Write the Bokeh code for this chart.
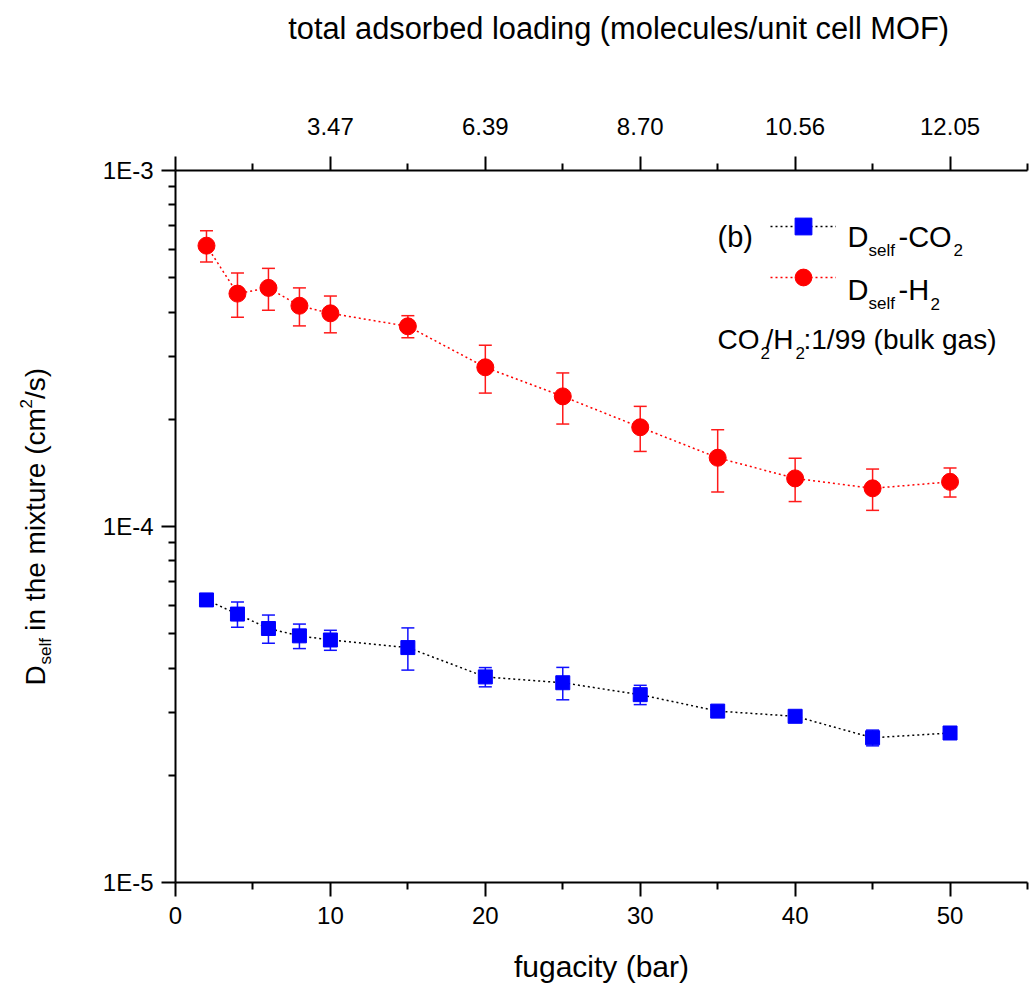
import math
from bokeh.plotting import figure
from bokeh.layouts import row
from bokeh.models import (Range1d, LinearAxis, FixedTicker, CustomJSTickFormatter,
                          Whisker, TeeHead, ColumnDataSource, Legend, LegendItem, Label)
from bokeh.core.properties import value
from bokeh.embed import file_html
from bokeh.resources import INLINE

# ---------------- data ----------------
fugacity = [2, 4, 6, 8, 10, 15, 20, 25, 30, 35, 40, 45, 50]
h2_dself = [6.15e-4, 4.51e-4, 4.68e-4, 4.17e-4, 3.97e-4, 3.65e-4, 2.80e-4,
            2.32e-4, 1.90e-4, 1.56e-4, 1.365e-4, 1.28e-4, 1.335e-4]
h2_err = [0.62e-4, 0.64e-4, 0.63e-4, 0.51e-4, 0.47e-4, 0.26e-4, 0.43e-4,
          0.38e-4, 0.275e-4, 0.31e-4, 0.19e-4, 0.17e-4, 0.125e-4]
co2_dself = [6.22e-5, 5.675e-5, 5.17e-5, 4.93e-5, 4.80e-5, 4.57e-5, 3.78e-5,
             3.64e-5, 3.37e-5, 3.03e-5, 2.93e-5, 2.55e-5, 2.63e-5]
co2_err = [0.12e-5, 0.46e-5, 0.47e-5, 0.39e-5, 0.31e-5, 0.62e-5, 0.235e-5,
           0.38e-5, 0.21e-5, 0.05e-5, 0.05e-5, 0.13e-5, 0.05e-5]

bottom_ticks = [0, 10, 20, 30, 40, 50]
bottom_minor = [5, 15, 25, 35, 45, 55]
top_ticks = [10, 20, 30, 40, 50]
loading_labels = ["3.47", "6.39", "8.70", "10.56", "12.05"]
y_major = [1e-5, 1e-4, 1e-3]
y_minor = [k * 10.0 ** e for e in (-5, -4) for k in range(2, 10)]

FONT = "Liberation Sans"
LW = 70          # width of the strip that carries the rotated y title
H = 986
FRAME_TOP, FRAME_BOTTOM = 170, 882

p = figure(width=1029 - LW, height=H, output_backend="svg", toolbar_location=None,
           x_range=Range1d(0, 55), y_range=Range1d(1e-5, 1e-3), y_axis_type="log",
           min_border_left=175 - LW, min_border_top=FRAME_TOP, min_border_right=2,
           min_border_bottom=H - FRAME_BOTTOM, outline_line_color=None)
p.grid.visible = False


def style_axis(ax):
    ax.axis_line_width = 2
    ax.axis_line_color = "black"
    ax.major_tick_line_width = 2
    ax.minor_tick_line_width = 2
    ax.major_tick_in = 0
    ax.major_tick_out = 14
    ax.minor_tick_in = 0
    ax.minor_tick_out = 7
    ax.major_label_text_font = FONT
    ax.major_label_text_font_size = "24px"
    ax.major_label_text_color = "black"
    ax.axis_label_text_font = FONT
    ax.axis_label_text_font_size = "30px"
    ax.axis_label_text_font_style = "normal"
    ax.axis_label_text_color = "black"


xb = p.xaxis[0]
xb.ticker = FixedTicker(ticks=bottom_ticks, minor_ticks=bottom_minor)
style_axis(xb)
xb.major_label_standoff = 10
xb.axis_label = "fugacity (bar)"
xb.axis_label_standoff = 23

yl = p.yaxis[0]
yl.ticker = FixedTicker(ticks=y_major, minor_ticks=y_minor)
yl.formatter = CustomJSTickFormatter(code="return '1E' + Math.round(Math.log10(tick));")
style_axis(yl)
yl.major_label_standoff = 8

xt = LinearAxis(ticker=FixedTicker(ticks=[0] + top_ticks, minor_ticks=bottom_minor),
                formatter=CustomJSTickFormatter(args=dict(t=top_ticks, l=loading_labels),
                    code="const i = t.indexOf(tick); return i >= 0 ? l[i] : '';"))
style_axis(xt)
xt.major_label_standoff = 22
xt.axis_label = "\u00a0\u00a0\u00a0\u00a0total adsorbed loading (molecules/unit cell MOF)"
xt.axis_label_text_font_size = "30.8px"
xt.axis_label_standoff = 69
p.add_layout(xt, "above")

# ---------------- data marks ----------------
h2_src = ColumnDataSource(dict(x=fugacity, y=h2_dself,
                               lo=[v - e for v, e in zip(h2_dself, h2_err)],
                               hi=[v + e for v, e in zip(h2_dself, h2_err)]))
co2_src = ColumnDataSource(dict(x=fugacity, y=co2_dself,
                                lo=[v - e for v, e in zip(co2_dself, co2_err)],
                                hi=[v + e for v, e in zip(co2_dself, co2_err)]))

for src, col in ((h2_src, "#ff1a1a"), (co2_src, "#1010ff")):
    w = Whisker(base="x", upper="hi", lower="lo", source=src, dimension="height",
                line_color=col, line_width=1.5,
                upper_head=TeeHead(size=13, line_color=col, line_width=1.5),
                lower_head=TeeHead(size=13, line_color=col, line_width=1.5))
    p.add_layout(w)

h2_line = p.line("x", "y", source=h2_src, line_color="red", line_width=1.5, line_dash="2 3")
co2_line = p.line("x", "y", source=co2_src, line_color="black", line_width=1.5, line_dash="2 3")
h2_pts = p.scatter("x", "y", source=h2_src, marker="circle", size=17,
                   fill_color="red", line_color="red")
co2_pts = p.scatter("x", "y", source=co2_src, marker="square", size=14,
                    fill_color="blue", line_color="blue")

legend = Legend(items=[LegendItem(label=" ", renderers=[co2_line, co2_pts]),
                       LegendItem(label=" ", renderers=[h2_line, h2_pts])],
                location=(595, 584), padding=0, margin=0, spacing=9,
                glyph_width=66, glyph_height=42, label_standoff=0, label_width=0,
                label_height=0, label_text_font_size="1px",
                border_line_color=None, background_fill_alpha=0)
p.add_layout(legend, "center")


def txt(s, x, y, size):
    p.add_layout(Label(text=s, x=x, y=y, x_units="screen", y_units="screen",
                       text_font=FONT, text_font_size=f"{size}px", text_color="black",
                       text_baseline="alphabetic", text_align="left"))


# legend texts (frame-relative screen coordinates)
txt("(b)", 542, 646, 29)
txt("D", 672, 646, 29)
txt("self", 693, 632, 17)
txt("-CO", 723, 646, 29)
txt("2", 778, 633, 17)
txt("D", 672, 593, 29)
txt("self", 693, 579, 17)
txt("-H", 723, 593, 29)
txt("2", 755, 579, 17)
txt("CO", 542, 543, 28)
txt("2", 585, 530, 17)
txt("/H", 590, 543, 28)
txt("2", 620, 530, 17)
txt(":1/99 (bulk gas)", 628, 543, 28)

# ---------------- rotated y-axis title in its own narrow strip ----------------
# the strip's frame lines up with the main frame (page rows 170..882)
q = figure(width=LW, height=H, output_backend="svg", toolbar_location=None,
           x_range=Range1d(0, LW), y_range=Range1d(FRAME_BOTTOM, FRAME_TOP),
           min_border_left=0, min_border_right=0,
           min_border_top=FRAME_TOP, min_border_bottom=H - FRAME_BOTTOM,
           x_axis_location=None, y_axis_location=None, outline_line_color=None)
q.grid.visible = False
ytitle_parts = ["D", "self", "\u00a0in the mixture (cm", "2", "/s)"]
ytitle_x = [35, 45, 35, 25, 35]
ytitle_y = [685, 664, 638, 408, 398.5]
ytitle_size = ["28px", "17px", "28px", "17px", "28px"]
q.text(x=ytitle_x, y=ytitle_y, text=ytitle_parts, angle=math.pi / 2,
       text_font=value(FONT), text_font_size=ytitle_size, text_color="black",
       text_baseline="alphabetic", text_align="left")

layout = row(q, p, spacing=0)
open("out.html", "w").write(file_html(layout, INLINE))
